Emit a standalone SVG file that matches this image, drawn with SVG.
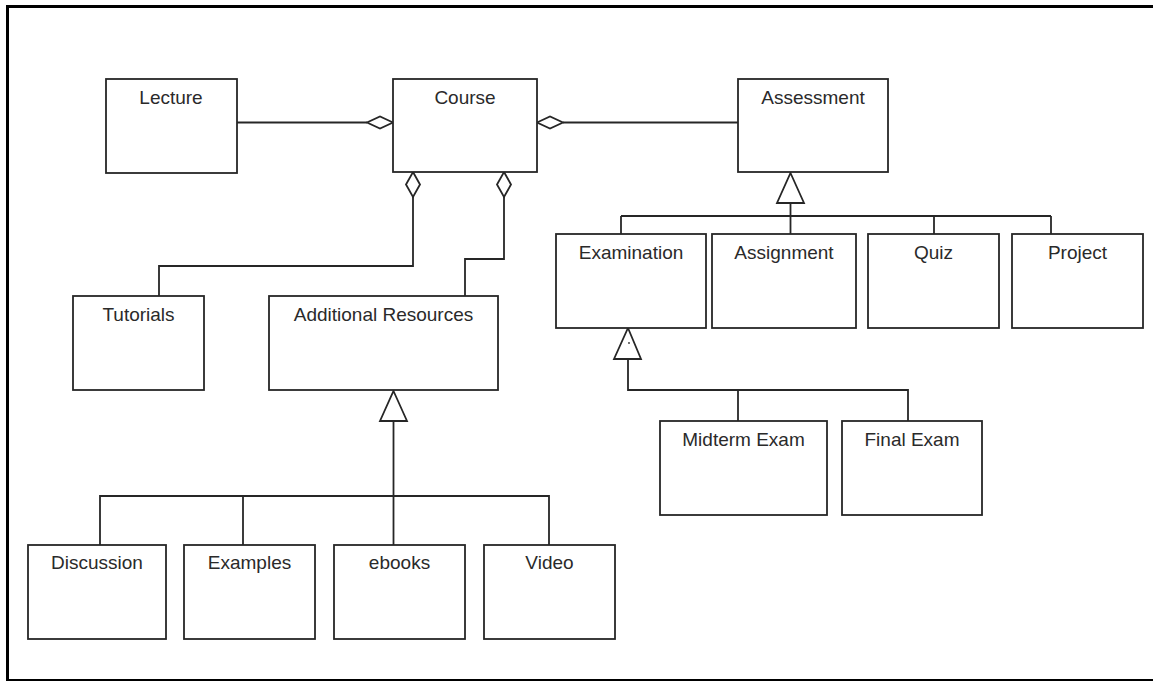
<svg xmlns="http://www.w3.org/2000/svg" width="1153" height="681" viewBox="0 0 1153 681">
  <style>
    .box { fill: #ffffff; stroke: #262626; stroke-width: 1.8; }
    .lbl { font-family: "Liberation Sans", Arial, sans-serif; font-size: 19px; fill: #2a2a2a; text-anchor: middle; }
    .wire { fill: none; stroke: #262626; stroke-width: 1.8; }
    .agg { fill: #ffffff; stroke: #262626; stroke-width: 1.8; stroke-linejoin: miter; }
    .gen { fill: #ffffff; stroke: #262626; stroke-width: 1.8; stroke-linejoin: miter; }
    .frame { stroke: #000000; fill: none; }
  </style>

  <rect width="1153" height="681" fill="#ffffff"/>

  <!-- outer frame (top, left, bottom edges) -->
  <g id="frame">
    <line class="frame" x1="6" y1="6.5" x2="1153" y2="6.5" stroke-width="3"/>
    <line class="frame" x1="7.5" y1="5" x2="7.5" y2="681" stroke-width="3"/>
    <line class="frame" x1="6" y1="680" x2="1153" y2="680" stroke-width="2"/>
  </g>

  <!-- connectors: aggregations and generalizations -->
  <g id="connectors">
    <!-- Lecture to Course (aggregation) -->
    <line class="wire" x1="237" y1="122.5" x2="367" y2="122.5"/>
    <polygon class="agg" points="393,122.5 380,116.5 367,122.5 380,128.5"/>
    <!-- Course to Assessment (aggregation) -->
    <line class="wire" x1="563" y1="122.5" x2="738" y2="122.5"/>
    <polygon class="agg" points="537,122.5 550,116.5 563,122.5 550,128.5"/>
    <!-- Course to Tutorials -->
    <polygon class="agg" points="413,172 420,184.5 413,197 406,184.5"/>
    <polyline class="wire" points="413,197 413,266 159,266 159,296"/>
    <!-- Course to Additional Resources -->
    <polygon class="agg" points="504,172 511,184.5 504,197 497,184.5"/>
    <polyline class="wire" points="504,197 504,259 465,259 465,296"/>

    <!-- Assessment subclasses -->
    <polygon class="gen" points="790.5,173 804,203 777,203"/>
    <line class="wire" x1="790.5" y1="203" x2="790.5" y2="234"/>
    <line class="wire" x1="621" y1="216" x2="1051" y2="216"/>
    <line class="wire" x1="621" y1="216" x2="621" y2="234"/>
    <line class="wire" x1="934" y1="216" x2="934" y2="234"/>
    <line class="wire" x1="1051" y1="216" x2="1051" y2="234"/>

    <!-- Examination subclasses -->
    <polygon class="gen" points="628,328 641,359 614,359"/>
    <polyline class="wire" points="628,359 628,390 908,390 908,421"/>
    <line class="wire" x1="738" y1="390" x2="738" y2="421"/>

    <!-- Additional Resources subclasses -->
    <polygon class="gen" points="393.5,391 407,421 380,421"/>
    <line class="wire" x1="393.5" y1="421" x2="393.5" y2="545"/>
    <polyline class="wire" points="100,545 100,496 549,496 549,545"/>
    <line class="wire" x1="243" y1="496" x2="243" y2="545"/>

    <!-- stray points -->
    <circle cx="609" cy="318" r="0.9" fill="#333"/>
    <circle cx="629" cy="343" r="0.9" fill="#333"/>
  </g>

  <g id="lecture">
    <rect class="box" x="106" y="79" width="131" height="94"/>
    <text class="lbl" x="171" y="104">Lecture</text>
  </g>
  <g id="course">
    <rect class="box" x="393" y="79" width="144" height="93"/>
    <text class="lbl" x="465" y="104">Course</text>
  </g>
  <g id="assessment">
    <rect class="box" x="738" y="79" width="150" height="93"/>
    <text class="lbl" x="813" y="104">Assessment</text>
  </g>
  <g id="tutorials">
    <rect class="box" x="73" y="296" width="131" height="94"/>
    <text class="lbl" x="138.5" y="321">Tutorials</text>
  </g>
  <g id="additional-resources">
    <rect class="box" x="269" y="296" width="229" height="94"/>
    <text class="lbl" x="383.5" y="321">Additional Resources</text>
  </g>
  <g id="examination">
    <rect class="box" x="556" y="234" width="150" height="94"/>
    <text class="lbl" x="631" y="259">Examination</text>
  </g>
  <g id="assignment">
    <rect class="box" x="712" y="234" width="144" height="94"/>
    <text class="lbl" x="784" y="259">Assignment</text>
  </g>
  <g id="quiz">
    <rect class="box" x="868" y="234" width="131" height="94"/>
    <text class="lbl" x="933.5" y="259">Quiz</text>
  </g>
  <g id="project">
    <rect class="box" x="1012" y="234" width="131" height="94"/>
    <text class="lbl" x="1077.5" y="259">Project</text>
  </g>
  <g id="midterm-exam">
    <rect class="box" x="660" y="421" width="167" height="94"/>
    <text class="lbl" x="743.5" y="446">Midterm Exam</text>
  </g>
  <g id="final-exam">
    <rect class="box" x="842" y="421" width="140" height="94"/>
    <text class="lbl" x="912" y="446">Final Exam</text>
  </g>
  <g id="discussion">
    <rect class="box" x="28" y="545" width="138" height="94"/>
    <text class="lbl" x="97" y="569">Discussion</text>
  </g>
  <g id="examples">
    <rect class="box" x="184" y="545" width="131" height="94"/>
    <text class="lbl" x="249.5" y="569">Examples</text>
  </g>
  <g id="ebooks">
    <rect class="box" x="334" y="545" width="131" height="94"/>
    <text class="lbl" x="399.5" y="569">ebooks</text>
  </g>
  <g id="video">
    <rect class="box" x="484" y="545" width="131" height="94"/>
    <text class="lbl" x="549.5" y="569">Video</text>
  </g>
</svg>
